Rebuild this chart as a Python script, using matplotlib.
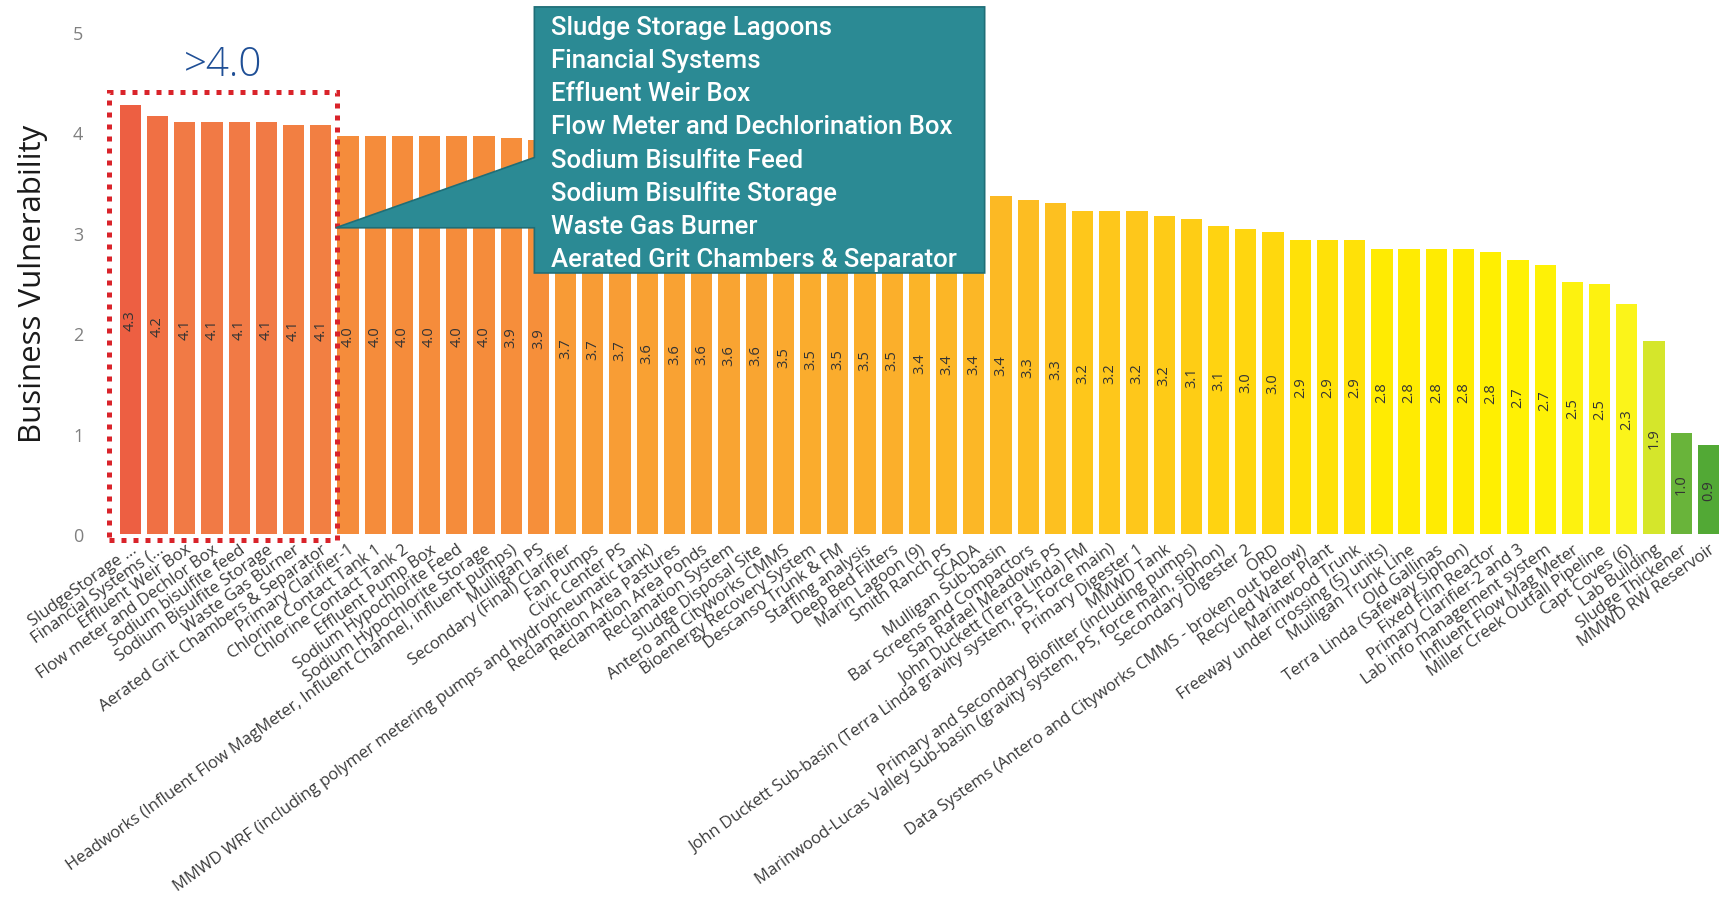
import matplotlib
matplotlib.use("Agg")
import matplotlib.pyplot as plt
import matplotlib.patches as patches
from matplotlib.colors import to_rgb
import numpy as np

categories = [
    "SludgeStorage ...", "Financial Systems (...", "Effluent Weir Box",
    "Flow meter and Dechlor Box", "Sodium bisulfite feed", "Sodium Bisulfite Storage",
    "Waste Gas Burner", "Aerated Grit Chambers & Separator", "Primary Clarifier-1",
    "Chlorine Contact Tank 1", "Chlorine Contact Tank 2", "Effluent Pump Box",
    "Sodium Hypochlorite Feed", "Sodium Hypochlorite Storage",
    "Headworks (Influent Flow MagMeter, Influent Channel, influent pumps)",
    "Mulligan PS", "Secondary (Final) Clarifier", "Fan Pumps", "Civic Center PS",
    "MMWD WRF (including polymer metering pumps and hydropneumatic tank)",
    "Reclamation Area Pastures", "Reclamation Area Ponds", "Reclamation System",
    "Sludge Disposal Site", "Antero and Cityworks CMMS", "Bioenergy Recovery System",
    "Descanso Trunk & FM", "Staffing analysis", "Deep Bed Filters", "Marin Lagoon (9)",
    "Smith Ranch PS", "SCADA", "Mulligan Sub-basin", "Bar Screens and Compactors",
    "San Rafael Meadows PS", "John Duckett (Terra Linda) FM",
    "John Duckett Sub-basin (Terra Linda gravity system, PS, Force main)",
    "Primary Digester 1", "MMWD Tank", "Primary and Secondary Biofilter (including pumps)",
    "Marinwood-Lucas Valley Sub-basin (gravity system, PS, force main, siphon)",
    "Secondary Digester 2", "ORD",
    "Data Systems (Antero and Cityworks CMMS - broken out below)",
    "Recycled Water Plant", "Marinwood Trunk", "Freeway under crossing (5) units)",
    "Mulligan Trunk Line", "Old Gallinas", "Terra Linda (Safeway Siphon)",
    "Fixed Film Reactor", "Primary Clarifier-2 and 3", "Lab info management system",
    "Influent Flow Mag Meter", "Miller Creek Outfall Pipeline", "Capt Coves (6)",
    "Lab Building", "Sludge Thickener", "MMWD RW Reservoir",
]

values = [
    4.27, 4.16, 4.10, 4.10, 4.10, 4.10, 4.07, 4.07, 3.96, 3.96,
    3.96, 3.96, 3.96, 3.96, 3.94, 3.92, 3.72, 3.70, 3.68, 3.62,
    3.60, 3.60, 3.58, 3.57, 3.53, 3.50, 3.50, 3.48, 3.47, 3.42,
    3.40, 3.39, 3.37, 3.33, 3.30, 3.22, 3.22, 3.22, 3.17, 3.14,
    3.07, 3.04, 3.01, 2.93, 2.93, 2.93, 2.84, 2.84, 2.84, 2.84,
    2.81, 2.73, 2.68, 2.51, 2.49, 2.29, 1.92, 1.01, 0.89,
]

callout_lines = [
    "Sludge Storage Lagoons", "Financial Systems", "Effluent Weir Box",
    "Flow Meter and Dechlorination Box", "Sodium Bisulfite Feed",
    "Sodium Bisulfite Storage", "Waste Gas Burner",
    "Aerated Grit Chambers & Separator",
]

# colour stops by value (green -> yellow -> orange -> red)
stop_vals = [0.9, 1.0, 1.9, 2.3, 2.8, 3.0, 3.3, 3.6, 4.0, 4.1, 4.3]
stop_cols = ["#52a935", "#68b33a", "#d3e52c", "#fcf41a", "#fff000", "#ffd90c",
             "#fdc020", "#f9a233", "#f58a3c", "#f17a45", "#ec5a42"]


def bar_color(v):
    rgb = np.array([to_rgb(c) for c in stop_cols])
    return tuple(np.interp(v, stop_vals, rgb[:, k]) for k in range(3))


fig = plt.figure(figsize=(17.22, 9.03), dpi=100)
ax = fig.add_axes([114 / 1722, (903 - 535) / 903, (1722 - 114) / 1722, (535 - 33) / 903])

x = np.arange(len(values))
ax.bar(x, values, width=0.78, color=[bar_color(v) for v in values], zorder=2)

for xi, v in zip(x, values):
    ax.text(xi, v / 2, f"{v:.1f}", rotation=90, ha="center", va="center",
            fontsize=10.5, color="#333333", family="Open Sans", zorder=3)

ax.set_xlim(-0.6, 58.5)
ax.set_ylim(0, 5)
for s in ax.spines.values():
    s.set_visible(False)
ax.tick_params(length=0)
ax.set_yticks(range(6))
ax.tick_params(axis="y", labelsize=13, labelcolor="#808080", pad=22)
ax.set_xticks(x)
ax.set_xticklabels(categories, rotation=35.5, ha="right", rotation_mode="anchor",
                   fontsize=12, color="#3a3a3a", family="Open Sans")
ax.tick_params(axis="x", pad=5)
for lbl in ax.get_yticklabels():
    lbl.set_family("Open Sans")
ax.set_ylabel("Business Vulnerability", fontsize=22.5, family="Open Sans",
              color="#1a1a1a", labelpad=18)

# red dotted box round the top group
box = patches.Rectangle((-0.8, -0.06), 8.4, 4.46, fill=False, edgecolor="#d9232a",
                        linewidth=3.6, linestyle=(0, (1, 1.4)), clip_on=False, zorder=4)
ax.add_patch(box)
ax.text(3.4, 4.47, ">4.0", color="#1f4f96", fontsize=29, ha="center", va="bottom",
        family="Open Sans", fontweight="light")

# callout with pointer
x0, x1 = 14.85, 31.4
y0, y1 = 2.60, 5.25
pts = [(x0, y1), (x1, y1), (x1, y0), (x0, y0), (x0, 3.05), (7.55, 3.05), (x0, 3.75)]
callout = patches.Polygon(pts, closed=True, facecolor="#2b8a94", edgecolor="#1f6e77",
                          linewidth=1.2, clip_on=False, zorder=5)
ax.add_patch(callout)
for i, line in enumerate(callout_lines):
    ax.text(15.45, 5.05 - i * 0.33, line, color="white", fontsize=18.5, va="center",
            ha="left", family="Roboto", fontweight="medium", zorder=6, clip_on=False)

fig.savefig("out.png", dpi=100, facecolor="white")
